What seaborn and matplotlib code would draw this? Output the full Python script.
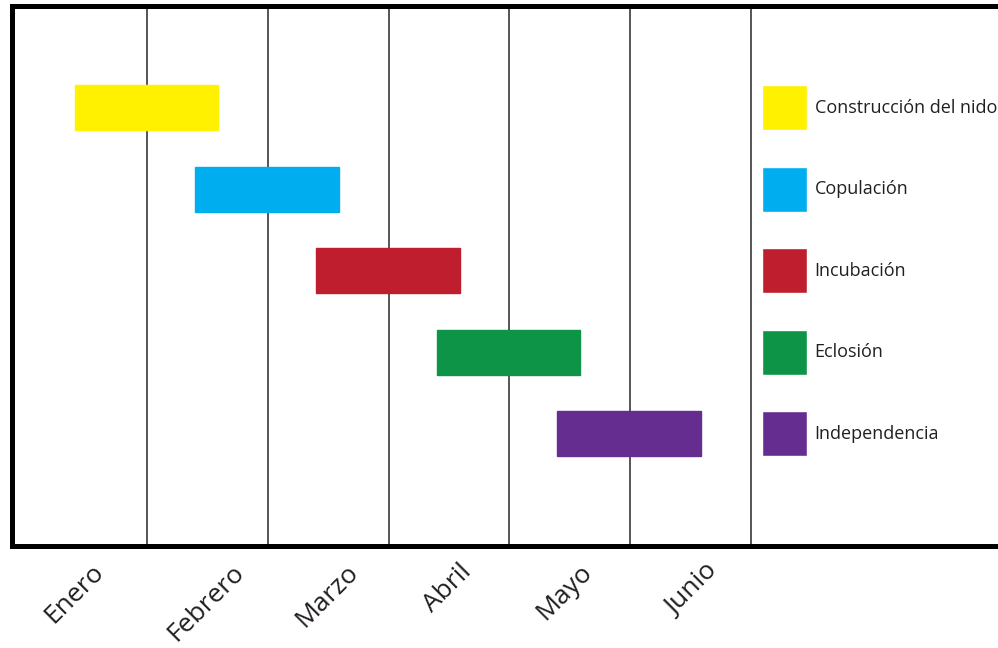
import pandas as pd
import matplotlib
matplotlib.use("Agg")
import matplotlib.pyplot as plt
import seaborn as sns

# Etapas del ciclo y su duracion (en meses, eje continuo)
etapas = ["Construcción del nido", "Copulación", "Incubación", "Eclosión", "Independencia"]
inicio = [0.40, 1.40, 2.40, 3.40, 4.40]
fin = [1.59, 2.59, 3.59, 4.59, 5.59]
colores = ["#FFF100", "#00AEEF", "#BE1E2D", "#0D9447", "#662D91"]

meses = ["Enero", "Febrero", "Marzo", "Abril", "Mayo", "Junio"]
pos_meses = [0.68, 1.85, 2.79, 3.73, 4.73, 5.77]   # donde cae cada etiqueta
divisiones = [1, 2, 3, 4, 5, 6]                      # lineas verticales

df = pd.DataFrame({"etapa": etapas, "inicio": inicio, "fin": fin})
df["duracion"] = df["fin"] - df["inicio"]

sns.set_theme(style="white")
plt.rcParams["font.family"] = ["Open Sans", "DejaVu Sans"]

fig = plt.figure(figsize=(9.98, 6.48), dpi=100)
ax = fig.add_axes([0.012, 0.158, 0.988, 0.832])

sns.barplot(data=df, x="duracion", y="etapa", left=df["inicio"].tolist(),
            color=colores[0], width=0.55, ax=ax, saturation=1, errorbar=None)
for barra, c in zip(ax.patches, colores):
    barra.set_facecolor(c)
    barra.set_edgecolor(c)

# cuadros de leyenda alineados con cada barra
for i, (nombre, c) in enumerate(zip(etapas, colores)):
    ax.barh(i, 0.373, left=6.091, height=0.55, color=c)
    ax.text(6.53, i, nombre, va="center", ha="left", fontsize=13, color="#231F20")

ax.set_xlim(-0.12, 8.05)
ax.set_ylim(5.37, -1.24)

ax.set_xticks(divisiones)
ax.set_xticklabels([])
ax.set_xticks(pos_meses, minor=True)
ax.set_xticklabels(meses, minor=True, rotation=45, ha="right", fontsize=19,
                   color="#231F20")
ax.tick_params(axis="x", which="both", length=0)
ax.tick_params(axis="x", which="minor", pad=10)
ax.set_yticks([])
ax.grid(axis="x", which="major", color="#555555", linewidth=1.4)
ax.set_axisbelow(True)

for s in ["left", "top", "bottom"]:
    ax.spines[s].set_color("black")
    ax.spines[s].set_linewidth(3.6)
ax.spines["right"].set_visible(False)
ax.set_xlabel("")
ax.set_ylabel("")

fig.savefig("out.png", dpi=100)
